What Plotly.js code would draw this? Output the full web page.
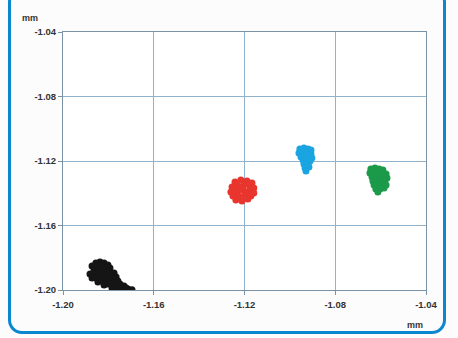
<!DOCTYPE html>
<html><head><meta charset="utf-8">
<script src="https://cdn.plot.ly/plotly-3.0.1.min.js"></script>
<style>
html,body{margin:0;padding:0;background:#fff;width:458px;height:338px;overflow:hidden;}
#frame{position:absolute;left:8px;top:-12px;width:438px;height:346px;border:3px solid #0b87cf;border-radius:14px;box-sizing:border-box;}
#plot{position:absolute;left:0;top:0;width:458px;height:338px;}
</style></head><body>
<div id="plot"></div>
<div id="frame"></div>
<script>
const tickVals = [-1.20,-1.16,-1.12,-1.08,-1.04];
const tickLabels = ["-1.20","-1.16","-1.12","-1.08","-1.04"];

const blackX = [-1.1872,-1.1855,-1.1837,-1.1819,-1.1802,-1.1863,-1.1846,-1.1828,-1.1811,-1.1793,-1.1881,-1.1863,-1.1846,-1.1828,-1.1811,-1.1793,-1.1775,-1.1872,-1.1855,-1.1837,-1.1819,-1.1802,-1.1784,-1.1766,-1.1846,-1.1828,-1.1811,-1.1793,-1.1775,-1.1758,-1.1819,-1.1802,-1.1784,-1.1766,-1.1749,-1.1731,-1.1784,-1.1766,-1.1749,-1.1731,-1.1714,-1.1696,-1.1749,-1.1722];
const blackY = [-1.1851,-1.1833,-1.1826,-1.1833,-1.1845,-1.1876,-1.1864,-1.1857,-1.1864,-1.1864,-1.1901,-1.1901,-1.1895,-1.1888,-1.1888,-1.1888,-1.1895,-1.1926,-1.1926,-1.1919,-1.1913,-1.1913,-1.1913,-1.1919,-1.1950,-1.1944,-1.1938,-1.1938,-1.1938,-1.1944,-1.1969,-1.1963,-1.1963,-1.1963,-1.1963,-1.1975,-1.1988,-1.1988,-1.1988,-1.1994,-1.1994,-1.1998,-1.1975,-1.1988];

const redX = [-1.1242,-1.1216,-1.1189,-1.1167,-1.1255,-1.1229,-1.1203,-1.1176,-1.1159,-1.1260,-1.1233,-1.1207,-1.1181,-1.1159,-1.1251,-1.1225,-1.1198,-1.1172,-1.1238,-1.1211,-1.1185,-1.1220,-1.1194,-1.1242];
const redY = [-1.1330,-1.1318,-1.1324,-1.1337,-1.1361,-1.1355,-1.1349,-1.1355,-1.1368,-1.1392,-1.1386,-1.1380,-1.1386,-1.1399,-1.1417,-1.1417,-1.1411,-1.1417,-1.1442,-1.1448,-1.1436,-1.1374,-1.1399,-1.1380];

const blueX = [-1.0956,-1.0938,-1.0920,-1.0907,-1.0960,-1.0942,-1.0925,-1.0907,-1.0951,-1.0933,-1.0916,-1.0903,-1.0942,-1.0925,-1.0911,-1.0938,-1.0920,-1.0933,-1.0916,-1.0929,-1.0947,-1.0929];
const blueY = [-1.1126,-1.1119,-1.1126,-1.1132,-1.1150,-1.1144,-1.1150,-1.1157,-1.1175,-1.1169,-1.1175,-1.1181,-1.1194,-1.1194,-1.1200,-1.1219,-1.1219,-1.1243,-1.1237,-1.1262,-1.1163,-1.1181];

const greenX = [-1.0643,-1.0625,-1.0607,-1.0590,-1.0647,-1.0629,-1.0612,-1.0594,-1.0576,-1.0638,-1.0621,-1.0603,-1.0585,-1.0572,-1.0634,-1.0616,-1.0598,-1.0581,-1.0629,-1.0612,-1.0594,-1.0576,-1.0621,-1.0603,-1.0585,-1.0612];
const greenY = [-1.1250,-1.1243,-1.1250,-1.1256,-1.1274,-1.1274,-1.1268,-1.1274,-1.1281,-1.1299,-1.1299,-1.1293,-1.1299,-1.1305,-1.1324,-1.1324,-1.1318,-1.1324,-1.1349,-1.1349,-1.1343,-1.1349,-1.1374,-1.1374,-1.1367,-1.1392];

function tr(x,y,c){return {x:x,y:y,type:'scatter',mode:'markers',marker:{color:c,size:7,opacity:1,line:{width:0}},hoverinfo:'skip',showlegend:false};}
const data = [tr(blackX,blackY,'#151515'),tr(redX,redY,'#e8352e'),tr(blueX,blueY,'#1ba4e2'),tr(greenX,greenY,'#1b9a4a')];

const axisCommon = {range:[-1.20,-1.04],tickmode:'array',tickvals:tickVals,ticktext:tickLabels,
  showgrid:true,gridcolor:'#8fb3cc',gridwidth:1,showline:true,linecolor:'#7a93a6',linewidth:1,mirror:true,
  ticks:'outside',ticklen:4,tickcolor:'#7a93a6',zeroline:false,
  tickfont:{family:'Arial, Liberation Sans, sans-serif',size:9.5,color:'#333',weight:'bold'}};

const layout = {width:458,height:338,margin:{l:63,r:32,t:32,b:48},
  paper_bgcolor:'#fdfcfc',plot_bgcolor:'#ffffff',
  xaxis:Object.assign({},axisCommon,{ticklabelstandoff:2}),
  yaxis:Object.assign({},axisCommon),
  annotations:[
    {text:'<b>mm</b>',xref:'paper',yref:'paper',x:-0.09,y:1.027,xanchor:'center',yanchor:'bottom',showarrow:false,font:{family:'Arial, Liberation Sans, sans-serif',size:9,color:'#333'}},
    {text:'<b>mm</b>',xref:'paper',yref:'paper',x:0.97,y:-0.135,xanchor:'center',yanchor:'middle',showarrow:false,font:{family:'Arial, Liberation Sans, sans-serif',size:9,color:'#333'}}
  ]};
Plotly.newPlot('plot',data,layout,{displayModeBar:false,staticPlot:true});
</script></body></html>
